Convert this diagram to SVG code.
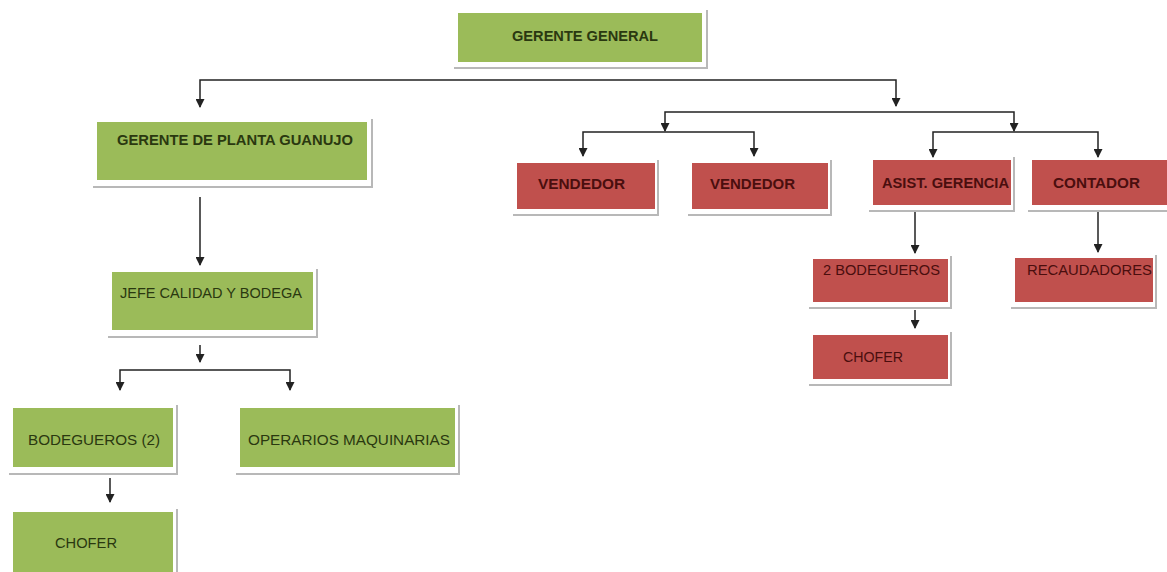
<svg xmlns="http://www.w3.org/2000/svg" width="1167" height="572" viewBox="0 0 1167 572">
  <style>
    .g { fill: #9bbb59; }
    .r { fill: #c0504d; }
    .sh { fill: none; stroke: #b8b8b8; stroke-width: 2; }
    .tg { font-family: "Liberation Sans", Arial, sans-serif; font-size: 14px; fill: #2a3810; }
    .tr { font-family: "Liberation Sans", Arial, sans-serif; font-size: 14px; fill: #4a0e0e; }
    .b { font-weight: bold; }
    .c { fill: none; stroke: #222; stroke-width: 1.5; }
  </style>
  <defs>
    <marker id="ah" markerUnits="userSpaceOnUse" markerWidth="9" markerHeight="9" refX="8" refY="4.5" orient="auto-start-reverse">
      <path d="M0,0 L9,4.5 L0,9 z" fill="#222"/>
    </marker>
  </defs>
  <rect width="1167" height="572" fill="#ffffff"/>

  <!-- connectors -->
  <g id="connectors">
    <path class="c" d="M200,107 V80 H896 V106" marker-start="url(#ah)" marker-end="url(#ah)"/>
    <path class="c" d="M200,197 V265" marker-end="url(#ah)"/>
    <path class="c" d="M200,345 V362" marker-end="url(#ah)"/>
    <path class="c" d="M120,390 V370 H290 V390" marker-start="url(#ah)" marker-end="url(#ah)"/>
    <path class="c" d="M110,478 V502" marker-end="url(#ah)"/>
    <path class="c" d="M665,131 V112 H1014 V131" marker-start="url(#ah)" marker-end="url(#ah)"/>
    <path class="c" d="M583,156 V132 H754 V156" marker-start="url(#ah)" marker-end="url(#ah)"/>
    <path class="c" d="M933,157 V132 H1098 V157" marker-start="url(#ah)" marker-end="url(#ah)"/>
    <path class="c" d="M915,210 V253" marker-end="url(#ah)"/>
    <path class="c" d="M1098,210 V252" marker-end="url(#ah)"/>
    <path class="c" d="M915,310 V328" marker-end="url(#ah)"/>
  </g>

  <!-- green branch -->
  <g id="gerente-general">
    <polyline class="sh" points="454,68 707,68 707,10"/>
    <rect class="g" x="458" y="13" width="244" height="49"/>
    <text class="tg b" x="512" y="41" textLength="146" lengthAdjust="spacingAndGlyphs">GERENTE GENERAL</text>
  </g>
  <g id="gerente-planta">
    <polyline class="sh" points="93,187 372,187 372,119"/>
    <rect class="g" x="97" y="122" width="270" height="58"/>
    <text class="tg b" x="117" y="145" textLength="236" lengthAdjust="spacingAndGlyphs">GERENTE DE PLANTA GUANUJO</text>
  </g>
  <g id="jefe-calidad">
    <polyline class="sh" points="108,337 317,337 317,269"/>
    <rect class="g" x="112" y="272" width="201" height="58"/>
    <text class="tg" x="120" y="298" textLength="182" lengthAdjust="spacingAndGlyphs">JEFE CALIDAD Y BODEGA</text>
  </g>
  <g id="bodegueros-2">
    <polyline class="sh" points="9,474 177,474 177,405"/>
    <rect class="g" x="13" y="408" width="160" height="59"/>
    <text class="tg" x="28" y="445" textLength="132" lengthAdjust="spacingAndGlyphs">BODEGUEROS (2)</text>
  </g>
  <g id="operarios">
    <polyline class="sh" points="236,474 459,474 459,405"/>
    <rect class="g" x="240" y="408" width="215" height="59"/>
    <text class="tg" x="248" y="445" textLength="202" lengthAdjust="spacingAndGlyphs">OPERARIOS MAQUINARIAS</text>
  </g>
  <g id="chofer-planta">
    <polyline class="sh" points="177,580 177,509"/>
    <rect class="g" x="13" y="512" width="160" height="62"/>
    <text class="tg" x="55" y="548" textLength="62" lengthAdjust="spacingAndGlyphs">CHOFER</text>
  </g>

  <!-- red branch -->
  <g id="vendedor-1">
    <polyline class="sh" points="513,215 658,215 658,160"/>
    <rect class="r" x="517" y="163" width="138" height="46"/>
    <text class="tr b" x="538" y="189" textLength="87" lengthAdjust="spacingAndGlyphs">VENDEDOR</text>
  </g>
  <g id="vendedor-2">
    <polyline class="sh" points="688,215 831,215 831,160"/>
    <rect class="r" x="692" y="163" width="136" height="46"/>
    <text class="tr b" x="710" y="189" textLength="85" lengthAdjust="spacingAndGlyphs">VENDEDOR</text>
  </g>
  <g id="asist-gerencia">
    <polyline class="sh" points="869,211 1014,211 1014,157"/>
    <rect class="r" x="873" y="160" width="138" height="45"/>
    <text class="tr b" x="882" y="188" textLength="127" lengthAdjust="spacingAndGlyphs">ASIST. GERENCIA</text>
  </g>
  <g id="contador">
    <polyline class="sh" points="1028,211 1167,211"/>
    <rect class="r" x="1032" y="160" width="135" height="45"/>
    <text class="tr b" x="1053" y="188" textLength="87" lengthAdjust="spacingAndGlyphs">CONTADOR</text>
  </g>
  <g id="bodegueros-asist">
    <polyline class="sh" points="809,308 951,308 951,256"/>
    <rect class="r" x="813" y="259" width="135" height="43"/>
    <text class="tr" x="823" y="275" textLength="117" lengthAdjust="spacingAndGlyphs">2 BODEGUEROS</text>
  </g>
  <g id="recaudadores">
    <polyline class="sh" points="1011,308 1156,308 1156,255"/>
    <rect class="r" x="1015" y="258" width="138" height="44"/>
    <text class="tr" x="1027" y="275" textLength="125" lengthAdjust="spacingAndGlyphs">RECAUDADORES</text>
  </g>
  <g id="chofer-asist">
    <polyline class="sh" points="809,385 951,385 951,332"/>
    <rect class="r" x="813" y="335" width="135" height="44"/>
    <text class="tr" x="843" y="362" textLength="60" lengthAdjust="spacingAndGlyphs">CHOFER</text>
  </g>
</svg>
